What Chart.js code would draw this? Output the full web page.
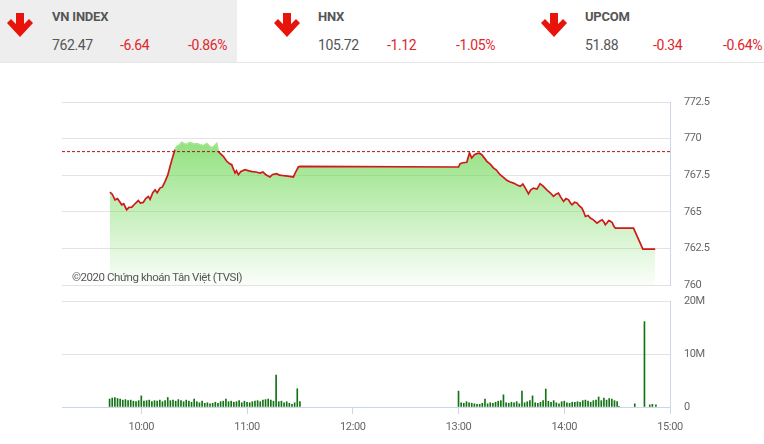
<!DOCTYPE html>
<html>
<head>
<meta charset="utf-8">
<script src="https://cdn.jsdelivr.net/npm/chart.js@4.4.1/dist/chart.umd.min.js"></script>
<style>
  body { margin: 0; width: 764px; height: 444px; background: #fff; position: relative; overflow: hidden; font-family: Roboto, "Noto Sans", sans-serif; }
  .t { position: absolute; white-space: nowrap; }
  .name { font-size: 13px; font-weight: bold; color: #555; top: 9px; letter-spacing: -0.2px; }
  .num { font-size: 14px; color: #555; top: 37px; letter-spacing: -0.4px; }
  .red { color: #e0262c; }
  .arrow { position: absolute; top: 13px; }
  canvas { position: absolute; left: 0; }
  #wm { position: absolute; left: 72px; top: 270px; font-size: 11.5px; color: #555; letter-spacing: -0.45px; }
</style>
</head>
<body>
<div style="position:absolute;left:0;top:0;width:237px;height:62px;background:#eeeeee"></div>
<div style="position:absolute;left:0;top:62px;width:764px;height:1px;background:#e6e6e6"></div>

<svg class="arrow" style="left:7px" width="26" height="25" viewBox="0 0 26 25"><path d="M9 0H17V11L22 6L26 10L13 24L0 10L4 6L9 11Z" fill="#e8140c"/></svg>
<div class="t name" style="left:52px">VN INDEX</div>
<div class="t num" style="left:52px">762.47</div>
<div class="t num red" style="left:120px">-6.64</div>
<div class="t num red" style="left:188px">-0.86%</div>

<svg class="arrow" style="left:274px" width="26" height="25" viewBox="0 0 26 25"><path d="M9 0H17V11L22 6L26 10L13 24L0 10L4 6L9 11Z" fill="#e8140c"/></svg>
<div class="t name" style="left:318px">HNX</div>
<div class="t num" style="left:318px">105.72</div>
<div class="t num red" style="left:387px">-1.12</div>
<div class="t num red" style="left:456px">-1.05%</div>

<svg class="arrow" style="left:541px" width="26" height="25" viewBox="0 0 26 25"><path d="M9 0H17V11L22 6L26 10L13 24L0 10L4 6L9 11Z" fill="#e8140c"/></svg>
<div class="t name" style="left:585px">UPCOM</div>
<div class="t num" style="left:585px">51.88</div>
<div class="t num red" style="left:653px">-0.34</div>
<div class="t num red" style="left:723px">-0.64%</div>

<canvas id="priceChart" width="764" height="207" style="top:88px"></canvas>
<canvas id="volChart" width="764" height="152" style="top:292px"></canvas>
<div id="wm">©2020 Chứng khoán Tân Việt (TVSI)</div>

<script>
// time in minutes since 00:00
const priceTimes = [582.2, 583.5, 585.1, 586.5, 588.9, 590, 591.7, 593, 594.6, 596, 598.3, 599.5, 601.1, 602.5, 604, 605, 606.5, 607.8, 609, 610.6, 612, 613.5, 615, 616.3, 617.7, 619.1,
  620.1, 621.5, 623, 624.5, 625.8, 627.2, 628.6, 630, 631.5, 633.3, 635.2, 637.1, 638.5, 640, 641.5, 642.8,
  643.7, 645, 646.5, 648.5, 650, 651.3, 652, 653.2, 654, 655.1, 656.5, 658.9, 661, 663, 665, 667.4, 669, 670.5, 673, 674.5, 676.8, 678.5, 680, 682, 684, 686.3, 687.5, 689.1, 690,
  780, 780.9, 782.5, 784.7, 786.2, 787.5, 789, 790.4, 791.8, 793.2, 794.5, 796.1, 798, 799.8, 801.5, 803.6, 805.5, 807.4, 809, 811.2, 813, 815, 816.5, 818, 819.7, 821, 822.6, 824.5, 826.3, 828,
  830.1, 832, 833.9, 835.3, 836.7, 838, 839.6, 841, 842.4, 843.5, 844.4, 845.8, 847.2, 848.6, 850, 851, 852, 853.5, 854.8, 856.5, 858.6, 860, 861.5, 862.5, 863.3, 864.3, 865.2, 866.2, 867.2, 868, 869,
  879.3, 884.6, 891.6];
const priceValues = [766.35, 766.2, 765.82, 765.9, 765.48, 765.55, 765.14, 765.3, 765.32, 765.5, 765.77, 765.6, 765.64, 765.9, 766.05, 765.85, 766.3, 766.5, 766.3, 766.62, 766.7, 767.08, 767.5, 768.1, 768.7, 769.25,
  769.47, 769.55, 769.75, 769.65, 769.6, 769.72, 769.7, 769.62, 769.66, 769.58, 769.52, 769.66, 769.5, 769.36, 769.5, 769.66,
  769.13, 768.95, 768.79, 768.45, 768.3, 768.22, 768.0, 767.65, 767.8, 767.53, 767.75, 767.88, 767.8, 767.75, 767.72, 767.65, 767.72, 767.55, 767.38, 767.55, 767.6, 767.5, 767.48, 767.45, 767.42, 767.38, 767.7, 768.06, 768.1,
  768.06, 768.29, 768.35, 768.38, 769.02, 768.68, 768.9, 768.97, 769.0, 768.9, 768.7, 768.45, 768.25, 768.0, 767.85, 767.53, 767.35, 767.15, 767.05, 766.96, 766.85, 766.74, 766.9, 766.6, 766.23, 766.5, 766.62, 766.55, 766.92, 766.75,
  766.5, 766.3, 766.05, 766.2, 766.28, 766.0, 765.71, 765.9, 765.82, 765.6, 765.48, 765.65, 765.6, 765.4, 765.25, 765.0, 764.68, 764.75, 764.57, 764.45, 764.23, 764.35, 764.45, 764.3, 764.11, 764.25, 764.4, 764.35, 764.27, 764.05, 763.88,
  763.88, 762.45, 762.45];
const prevClose = 769.11;

// volume in millions, one bar every 1.5 minutes
const volMorningStart = 582;
const volMorning = [1.5, 1.7, 1.8, 1.6, 1.5, 1.3, 1.4, 1.2, 1.3, 1.1, 1.0, 1.2,
  2.1,
  1.1, 1.2, 1.3, 1.0, 1.2, 1.1, 1.3, 1.0, 1.2,
  1.8,
  1.2, 1.3, 1.1, 1.4, 1.2, 1.0, 1.3, 1.1, 0.9,
  1.5,
  1.0, 0.8, 1.1, 0.7, 0.8, 0.6, 0.7, 0.9, 0.7, 1.0, 1.1,
  1.5,
  1.0, 1.1, 0.9, 1.0, 1.2, 0.8, 1.1, 0.9, 0.8, 1.0, 1.1, 1.2, 1.0, 1.3, 1.4, 1.5,
  1.3, 1.1, 6.0,
  1.0, 1.1, 0.8, 1.0, 0.7, 0.5, 0.8,
  3.45, 1.0];
const volAfternoonStart = 780;
const volAfternoon = [3.0,
  0.8, 0.7, 1.0, 0.8, 0.7, 0.6, 0.5, 0.5, 0.7,
  1.5,
  0.6, 0.8, 0.7, 0.9, 1.1, 1.2,
  2.3,
  0.8, 0.7, 0.9, 0.8, 1.0, 0.6,
  3.0,
  0.8, 1.0, 1.2,
  2.1,
  0.8, 0.7, 0.9, 1.2,
  3.4,
  1.1, 0.9, 1.2, 0.8, 0.6, 1.0, 1.1, 0.8, 0.7, 0.9, 0.9, 1.0, 0.9, 1.2, 1.3, 1.1, 0.9, 1.2, 1.3,
  1.9, 1.2, 1.7, 1.3, 1.6, 1.5, 1.2, 1.0];
const volStep = 1.5;
const volCloseTimes = [871, 880, 885.5, 888.5, 890, 892];
const volCloseValues = [0.15, 0.6, 16.1, 0.4, 0.5, 0.4];

const xTickValues = [600, 660, 720, 780, 840, 900];
const xTickLabels = ['10:00', '11:00', '12:00', '13:00', '14:00', '15:00'];
const priceTicks = [760, 762.5, 765, 767.5, 770, 772.5];
const volTicks = [0, 10, 20];
const volTickLabels = ['0', '10M', '20M'];

const tickFont = { family: 'Roboto', size: 11 };

// narrower tick text, closer to the condensed font of the original
const tightText = {
    id: 'tightText',
    beforeDraw(chart) { chart.ctx.letterSpacing = '-0.4px'; }
};

const pricePoints = priceTimes.map((t, i) => ({ x: t, y: priceValues[i] }));
const refPoints = [{ x: 555, y: prevClose }, { x: 900, y: prevClose }];

// right-side y axis: gap made by an invisible tick, so label padding stays small
function rightAxis(extra) {
    return Object.assign({
        position: 'right',
        ticks: { padding: 2, color: '#666', font: tickFont },
        grid: { color: '#e3e3e3', drawTicks: true, tickLength: 12, tickColor: 'rgba(0,0,0,0)' },
        border: { display: true, color: '#ccd6eb' },
        afterFit: s => { s.width = 94; }
    }, extra);
}

new Chart(document.getElementById('priceChart'), {
    type: 'line',
    data: {
        datasets: [
            {
                data: refPoints,
                borderColor: '#a31515',
                borderWidth: 1,
                borderDash: [3, 2],
                pointRadius: 0,
                fill: false
            },
            {
                data: pricePoints,
                borderColor: '#d0191a',
                borderWidth: 1.7,
                pointRadius: 0,
                tension: 0,
                fill: false,
                segment: {
                    borderColor: c => (c.p0.parsed.y > prevClose && c.p1.parsed.y > prevClose) ? '#a4e690' : undefined
                }
            },
            {
                data: pricePoints,
                borderWidth: 0,
                pointRadius: 0,
                tension: 0,
                fill: 'start',
                backgroundColor: function (ctx) {
                    const area = ctx.chart.chartArea;
                    if (!area) return 'rgba(120,215,95,0.4)';
                    const g = ctx.chart.ctx.createLinearGradient(0, area.top, 0, area.bottom);
                    g.addColorStop(0, 'rgba(110,215,85,0.95)');
                    g.addColorStop(1, 'rgba(110,215,85,0.03)');
                    return g;
                }
            }
        ]
    },
    options: {
        responsive: false,
        animation: false,
        plugins: { legend: { display: false }, tooltip: { enabled: false } },
        layout: { padding: { left: 62, top: 14, bottom: 10, right: 0 } },
        scales: {
            x: { type: 'linear', min: 555, max: 900, display: false },
            y: rightAxis({
                min: 760, max: 772.5,
                afterBuildTicks: s => { s.ticks = priceTicks.map(v => ({ value: v })); }
            })
        }
    },
    plugins: [tightText]
});

const volPoints = [];
volMorning.forEach((v, i) => volPoints.push({ x: volMorningStart + i * volStep, y: v }));
volAfternoon.forEach((v, i) => volPoints.push({ x: volAfternoonStart + i * volStep, y: v }));
volCloseTimes.forEach((t, i) => volPoints.push({ x: t, y: volCloseValues[i] }));

const volY = rightAxis({
    min: 0, max: 20,
    afterBuildTicks: s => { s.ticks = volTicks.map(v => ({ value: v })); }
});
volY.ticks = Object.assign({}, volY.ticks, { callback: (v, i) => volTickLabels[i] });

new Chart(document.getElementById('volChart'), {
    type: 'bar',
    data: {
        datasets: [{
            data: volPoints,
            backgroundColor: '#137313',
            barThickness: 1,
            borderWidth: 0
        }]
    },
    options: {
        responsive: false,
        animation: false,
        plugins: { legend: { display: false }, tooltip: { enabled: false } },
        layout: { padding: { left: 62, top: 9, bottom: 0, right: 0 } },
        scales: {
            x: {
                type: 'linear', min: 555, max: 900, offset: false,
                afterBuildTicks: s => { s.ticks = xTickValues.map(v => ({ value: v })); },
                ticks: { callback: (v, i) => xTickLabels[i], color: '#666', font: tickFont, padding: 7, maxRotation: 0, autoSkip: false },
                grid: { drawOnChartArea: false, tickLength: 7, color: '#ccd6eb', offset: false },
                border: { display: true, color: '#ccd6eb' },
                afterFit: s => { s.height = 37; }
            },
            y: volY
        }
    },
    plugins: [tightText]
});
</script>
</body>
</html>
